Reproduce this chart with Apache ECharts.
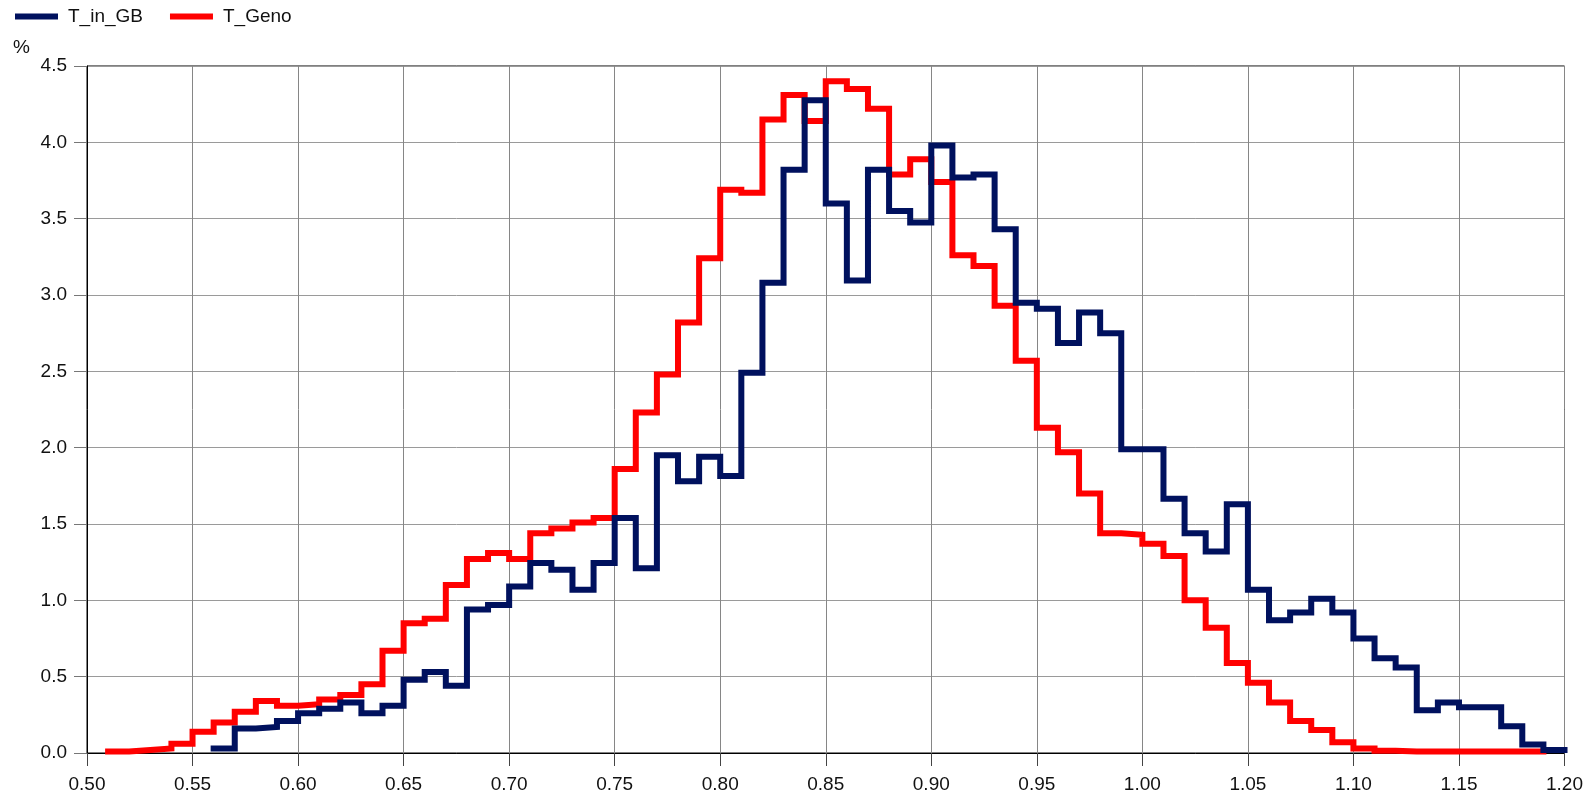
<!DOCTYPE html>
<html>
<head>
<meta charset="utf-8">
<title>T_in_GB / T_Geno</title>
<script src="https://cdn.jsdelivr.net/npm/echarts@6/dist/echarts.min.js"></script>
<style>
  html, body { margin: 0; padding: 0; background: #ffffff; }
  #chart { width: 1586px; height: 796px; }
</style>
</head>
<body>
<div id="chart"></div>
<script>
// Bin edges (width 0.01); bin i spans edges[i] .. edges[i + 1]
const edges = [
  0.51, 0.52, 0.53, 0.54, 0.55, 0.56, 0.57, 0.58, 0.59, 0.60,
  0.61, 0.62, 0.63, 0.64, 0.65, 0.66, 0.67, 0.68, 0.69, 0.70,
  0.71, 0.72, 0.73, 0.74, 0.75, 0.76, 0.77, 0.78, 0.79, 0.80,
  0.81, 0.82, 0.83, 0.84, 0.85, 0.86, 0.87, 0.88, 0.89, 0.90,
  0.91, 0.92, 0.93, 0.94, 0.95, 0.96, 0.97, 0.98, 0.99, 1.00,
  1.01, 1.02, 1.03, 1.04, 1.05, 1.06, 1.07, 1.08, 1.09, 1.10,
  1.11, 1.12, 1.13, 1.14, 1.15, 1.16, 1.17, 1.18, 1.19, 1.20
];

// Share of samples per bin, in %
const tInGB = [
  null, null, null, null, null, 0.03, 0.16, 0.17, 0.21, 0.26,
  0.29, 0.33, 0.26, 0.31, 0.48, 0.53, 0.44, 0.94, 0.97, 1.09,
  1.245, 1.20, 1.07, 1.245, 1.54, 1.21, 1.95, 1.78, 1.94, 1.815,
  2.49, 3.08, 3.82, 4.275, 3.60, 3.095, 3.82, 3.55, 3.475, 3.98,
  3.77, 3.79, 3.43, 2.95, 2.91, 2.685, 2.885, 2.75, 1.99, 1.99,
  1.665, 1.44, 1.32, 1.63, 1.07, 0.87, 0.92, 1.01, 0.92, 0.75,
  0.62, 0.56, 0.28, 0.33, 0.30, 0.30, 0.175, 0.055, 0.02
];

const tGeno = [
  0.01, 0.02, 0.03, 0.06, 0.14, 0.20, 0.27, 0.34, 0.31, 0.32,
  0.35, 0.38, 0.45, 0.67, 0.85, 0.88, 1.10, 1.27, 1.31, 1.27,
  1.44, 1.47, 1.51, 1.54, 1.86, 2.23, 2.48, 2.82, 3.24, 3.69,
  3.67, 4.15, 4.31, 4.14, 4.40, 4.35, 4.22, 3.79, 3.89, 3.74,
  3.26, 3.19, 2.93, 2.57, 2.13, 1.97, 1.70, 1.44, 1.43, 1.37,
  1.29, 1.00, 0.82, 0.59, 0.46, 0.33, 0.21, 0.15, 0.07, 0.03,
  0.015, 0.01, 0.01, 0.01, 0.01, 0.01, 0.01, 0.01, null
];

const seriesNames = ['T_in_GB', 'T_Geno'];
const seriesColors = ['#00115e', '#ff0000'];

// Turn per-bin values into step points: one point at each bin's left edge,
// plus a closing point at the right edge of the last filled bin.
function stepPoints(values) {
  const pts = [];
  let last = -1;
  values.forEach((v, i) => {
    if (v === null) return;
    pts.push([edges[i], v]);
    last = i;
  });
  if (last >= 0) pts.push([edges[last + 1], values[last]]);
  return pts;
}

const font = '"Liberation Sans", Arial, sans-serif';

function stepSeries(name, color, values, z) {
  return {
    name: name,
    type: 'line',
    step: 'end',
    data: stepPoints(values),
    showSymbol: false,
    symbol: 'none',
    z: z,
    itemStyle: { color: color },
    lineStyle: { color: color, width: 6, cap: 'square', join: 'miter' },
    emphasis: { disabled: true },
    animation: false
  };
}

const chart = echarts.init(document.getElementById('chart'), null, { renderer: 'canvas' });

chart.setOption({
  backgroundColor: '#ffffff',
  animation: false,
  textStyle: { fontFamily: font },
  title: {
    text: '%',
    left: 8,
    top: 33,
    textStyle: { fontFamily: font, fontSize: 19, fontWeight: 'normal', color: '#111' }
  },
  legend: {
    data: seriesNames,
    left: 15,
    top: 7,
    padding: 0,
    icon: 'rect',
    itemWidth: 43,
    itemHeight: 6,
    itemGap: 27,
    textStyle: { fontFamily: font, fontSize: 19, color: '#111', padding: [0, 0, 0, 5] }
  },
  grid: {
    left: 87,
    right: 21,
    top: 66,
    bottom: 43,
    show: true,
    borderColor: '#000',
    borderWidth: 1,
    containLabel: false
  },
  xAxis: {
    type: 'value',
    min: 0.5,
    max: 1.2,
    interval: 0.05,
    axisLine: { show: true, onZero: false, lineStyle: { color: '#000', width: 1 } },
    axisTick: { show: true, inside: false, length: 13, lineStyle: { color: '#444' } },
    axisLabel: {
      margin: 22,
      fontFamily: font,
      fontSize: 19,
      color: '#111',
      formatter: v => v.toFixed(2)
    },
    splitLine: { show: true, lineStyle: { color: '#868686', width: 1 } }
  },
  yAxis: {
    type: 'value',
    min: 0,
    max: 4.5,
    interval: 0.5,
    axisLine: { show: true, lineStyle: { color: '#000', width: 1 } },
    axisTick: { show: true, inside: false, length: 13, lineStyle: { color: '#777' } },
    axisLabel: {
      margin: 20,
      fontFamily: font,
      fontSize: 19,
      color: '#111',
      padding: [4, 0, 0, 0],
      formatter: v => v.toFixed(1)
    },
    splitLine: { show: true, lineStyle: { color: '#9a9a9a', width: 1 } }
  },
  series: [
    stepSeries(seriesNames[1], seriesColors[1], tGeno, 2),
    stepSeries(seriesNames[0], seriesColors[0], tInGB, 3)
  ]
});
</script>
</body>
</html>
